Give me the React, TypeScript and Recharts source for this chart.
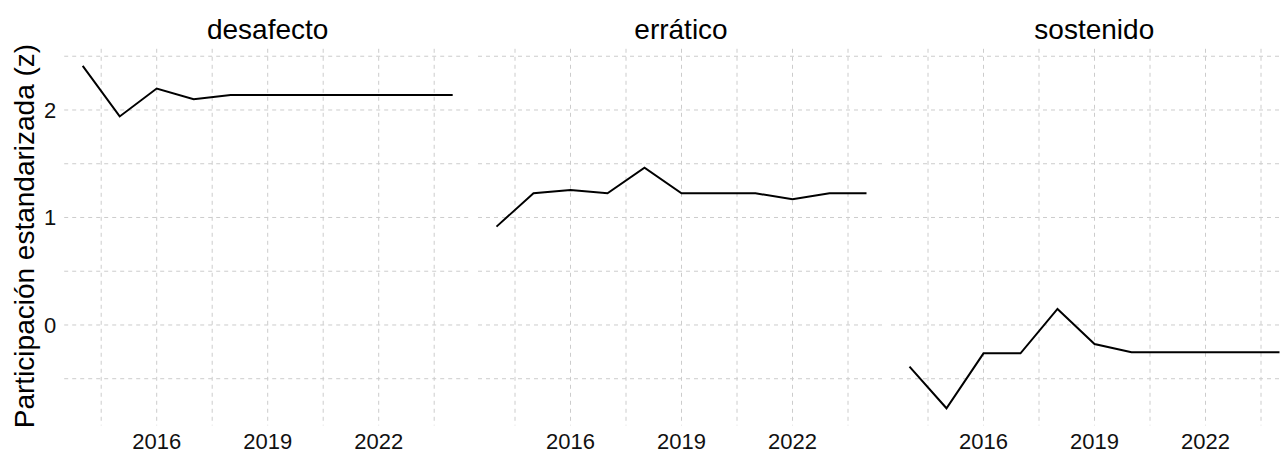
import React from "react";
import { LineChart, Line, XAxis, YAxis, CartesianGrid } from "recharts";

const years = [2014, 2015, 2016, 2017, 2018, 2019, 2020, 2021, 2022, 2023, 2024];
const desafecto = [2.41, 1.94, 2.2, 2.1, 2.14, 2.14, 2.14, 2.14, 2.14, 2.14, 2.14];
const erratico = [0.915, 1.225, 1.256, 1.225, 1.463, 1.225, 1.225, 1.225, 1.169, 1.225, 1.225];
const sostenido = [-0.388, -0.775, -0.264, -0.264, 0.149, -0.177, -0.254, -0.254, -0.254, -0.254, -0.254];
const panelTitles = ["desafecto", "errático", "sostenido"];
const xTicks = [2014.5, 2016, 2017.5, 2019, 2020.5, 2022, 2023.5];
const yTicks = [-0.5, 0, 0.5, 1, 1.5, 2, 2.5];
const yLabel = "Participación estandarizada (z)";

const seriesList = [desafecto, erratico, sostenido];

const allVals = seriesList.flat();
const yMin = Math.min(...allVals);
const yMax = Math.max(...allVals);
const ySpan = yMax - yMin;
const yDomain: [number, number] = [yMin - 0.05 * ySpan, yMax + 0.05 * ySpan];
const xSpan = years[years.length - 1] - years[0];
const xDomain: [number, number] = [years[0] - 0.05 * xSpan, years[years.length - 1] + 0.05 * xSpan];

const FONT = "'Liberation Sans', Arial, sans-serif";
const PLOT_W = 407;
const PLOT_TOP = 48.8;
const PLOT_BOTTOM = 425.4;
const H = 453;
const Y_AXIS_W = 64.2;
const PANEL_STEP = 413.3;

const fmt = (v: number) => (Number.isInteger(v) ? String(v) : "");

function Panel({ idx }: { idx: number }) {
  const data = years.map((y, i) => ({ year: y, value: seriesList[idx][i] }));
  const first = idx === 0;
  const width = first ? Y_AXIS_W + PLOT_W : PLOT_W;
  const left = first ? 0 : Y_AXIS_W + idx * PANEL_STEP;
  return (
    <div style={{ position: "absolute", left, top: 0 }}>
      <LineChart
        width={width}
        height={H}
        data={data}
        margin={{ top: PLOT_TOP, right: 0, bottom: 0, left: 0 }}
      >
        <CartesianGrid stroke="#cccccc" strokeDasharray="4 4" strokeWidth={1} syncWithTicks />
        <XAxis
          dataKey="year"
          type="number"
          domain={xDomain}
          ticks={xTicks}
          tickFormatter={fmt}
          interval={0}
          tickLine={false}
          axisLine={false}
          height={H - PLOT_BOTTOM}
          tick={{ fill: "#111", fontSize: 22, fontFamily: FONT }}
        />
        <YAxis
          type="number"
          domain={yDomain}
          ticks={yTicks}
          tickFormatter={fmt}
          interval={0}
          tickLine={false}
          axisLine={false}
          hide={!first}
          width={Y_AXIS_W}
          allowDataOverflow
          tick={{ fill: "#111", fontSize: 22, fontFamily: FONT }}
        />
        <Line
          type="linear"
          dataKey="value"
          stroke="#000"
          strokeWidth={2}
          dot={false}
          isAnimationActive={false}
        />
      </LineChart>
      <div
        style={{
          position: "absolute",
          left: first ? Y_AXIS_W : 0,
          top: 16.3,
          width: PLOT_W,
          textAlign: "center",
          fontFamily: FONT,
          fontSize: 28,
          lineHeight: "28px",
          color: "#000",
        }}
      >
        {panelTitles[idx]}
      </div>
    </div>
  );
}

export default function App() {
  return (
    <div
      style={{
        position: "fixed",
        left: 0,
        top: 0,
        width: 1283,
        height: 453,
        overflow: "hidden",
        background: "#fff",
      }}
    >
      {[0, 1, 2].map((i) => (
        <Panel key={i} idx={i} />
      ))}
      <div
        style={{
          position: "absolute",
          left: 25.3 - 250,
          top: 235.5 - 14,
          width: 500,
          height: 28,
          lineHeight: "28px",
          textAlign: "center",
          fontFamily: FONT,
          fontSize: 28,
          color: "#000",
          transform: "rotate(-90deg)",
          whiteSpace: "nowrap",
        }}
      >
        {yLabel}
      </div>
    </div>
  );
}
